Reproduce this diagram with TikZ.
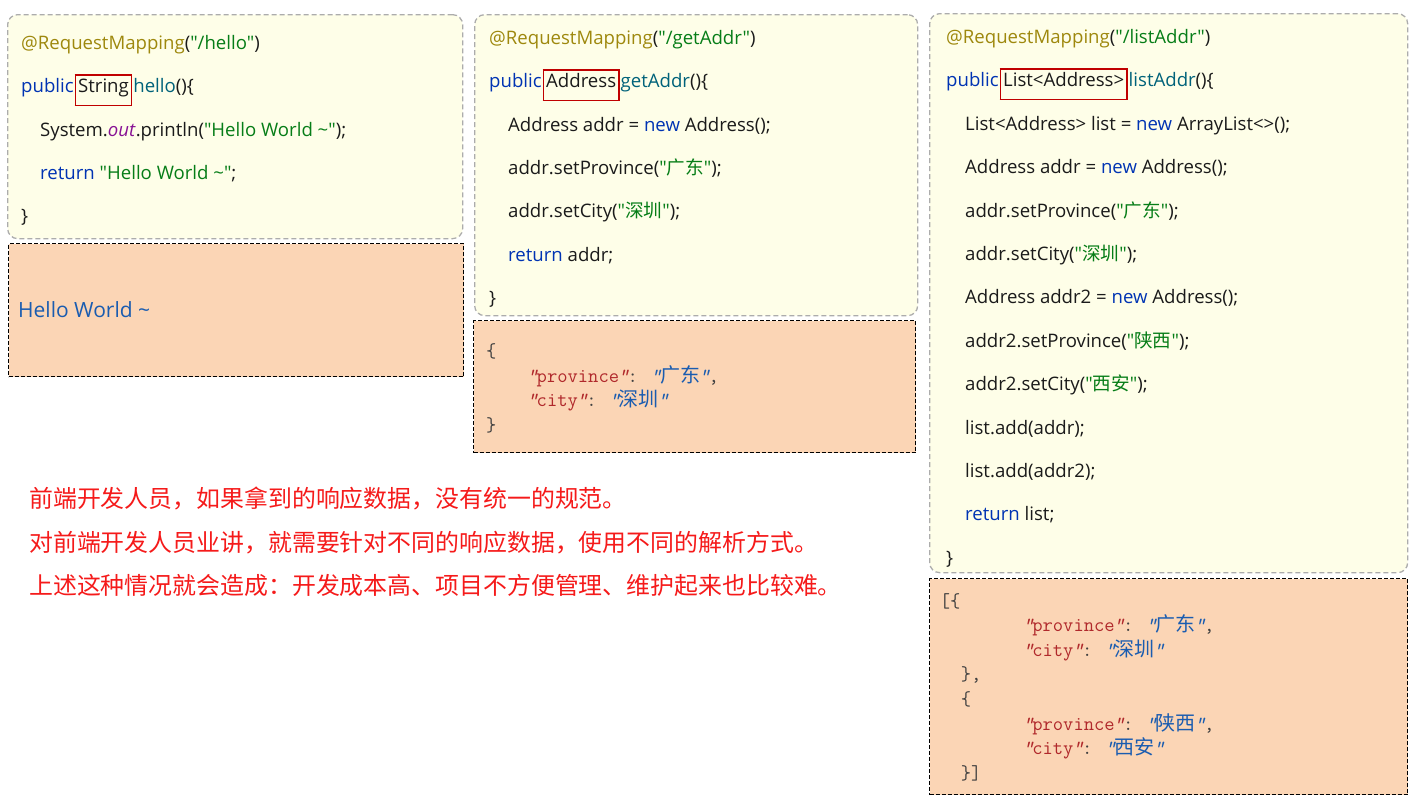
\documentclass[tikz,border=0pt]{standalone}
\usepackage{fontspec}
\setmainfont{Open Sans}[Ligatures=TeXOff]
\newfontfamily\cjk{Noto Sans CJK SC}
\usetikzlibrary{positioning}

\definecolor{codebg}{HTML}{FEFEE8}
\definecolor{resbg}{HTML}{FBD5B5}
\definecolor{codeblack}{HTML}{1A1A1A}
\definecolor{annocol}{HTML}{9E880D}
\definecolor{kwcol}{HTML}{0033B3}
\definecolor{strcol}{HTML}{067D17}
\definecolor{fncol}{HTML}{00627A}
\definecolor{fieldcol}{HTML}{871094}
\definecolor{keycol}{HTML}{B0282B}
\definecolor{valcol}{HTML}{1A5CB0}
\definecolor{jsoncol}{HTML}{404040}
\definecolor{markcol}{HTML}{C00000}
\definecolor{notecol}{HTML}{F51A1A}

\newcommand{\anno}[1]{\textcolor{annocol}{#1}}
\newcommand{\kw}[1]{\textcolor{kwcol}{#1}}
\newcommand{\str}[1]{\textcolor{strcol}{#1}}
\newcommand{\fn}[1]{\textcolor{fncol}{#1}}
\newcommand{\ind}{\hspace*{19pt}}
\newcommand{\marked}[1]{{\fboxsep=2pt\fboxrule=1.5pt\fcolorbox{markcol}{codebg}{\rule[-10pt]{0pt}{25pt}#1}}}
\newcommand{\jq}{\makebox[8.5pt]{\itshape"}}
\newcommand{\jkey}[1]{\textcolor{keycol}{\jq#1\jq}}
\newcommand{\jval}[1]{\textcolor{valcol}{\jq{\cjk#1}\jq}}

\tikzset{
  codebox/.style={draw=gray!65, fill=codebg, line width=1.3pt, dash pattern=on 5pt off 3pt, rounded corners=10pt, anchor=north west, inner sep=0pt},
  resbox/.style={draw=black, fill=resbg, line width=1.1pt, dash pattern=on 4pt off 2pt, anchor=north west, inner sep=0pt},
  codetext/.style={inner sep=0pt, align=left, text=codeblack, font=\fontsize{18.6}{43.4}\selectfont},
  jsontext/.style={inner sep=0pt, align=left, text=jsoncol, font=\ttfamily\fontsize{20}{24.6}\selectfont},
}

\begin{document}
\begin{tikzpicture}[x=1pt, y=-1pt]
\useasboundingbox (0,0) rectangle (1410,803);

% Boxes
\node[codebox, minimum width=455pt, minimum height=224pt] (hellobox) at (7,14) {};
\node[resbox, minimum width=455pt, minimum height=133pt] (hellores) at (8,243) {};
\node[codebox, minimum width=443pt, minimum height=301pt] (addrbox) at (474,14) {};
\node[resbox, minimum width=442pt, minimum height=132pt] (addrres) at (473,320) {};
\node[codebox, minimum width=478pt, minimum height=559pt] (listbox) at (929,13) {};
\node[resbox, minimum width=478pt, minimum height=216pt] (listres) at (929,578) {};

% Code
\node[codetext, below right=20.9pt and 14pt of hellobox.north west] (hellocode) {%
\anno{@RequestMapping}(\str{"/hello"})\\
\kw{public}\hspace{1pt}\marked{String}\hspace{1pt}\fn{hello}()\{\\
\ind System.\textcolor{fieldcol}{\textit{out}}.println(\str{"Hello World \textasciitilde"});\\
\ind\kw{return} \str{"Hello World \textasciitilde"};\\
\}};
\node[codetext, below right=15.9pt and 15pt of addrbox.north west] (addrcode) {%
\anno{@RequestMapping}(\str{"/getAddr"})\\
\kw{public}\hspace{1pt}\marked{Address}\hspace{1pt}\fn{getAddr}()\{\\
\ind Address addr = \kw{new} Address();\\
\ind addr.setProvince(\str{"{\cjk 广东}"});\\
\ind addr.setCity(\str{"{\cjk 深圳}"});\\
\ind\kw{return} addr;\\
\}};
\node[codetext, below right=16.2pt and 17pt of listbox.north west] (listcode) {%
\anno{@RequestMapping}(\str{"/listAddr"})\\
\kw{public}\hspace{1pt}\marked{List<Address>}\hspace{1pt}\fn{listAddr}()\{\\
\ind List<Address> list = \kw{new} ArrayList<>();\\
\ind Address addr = \kw{new} Address();\\
\ind addr.setProvince(\str{"{\cjk 广东}"});\\
\ind addr.setCity(\str{"{\cjk 深圳}"});\\
\ind Address addr2 = \kw{new} Address();\\
\ind addr2.setProvince(\str{"{\cjk 陕西}"});\\
\ind addr2.setCity(\str{"{\cjk 西安}"});\\
\ind list.add(addr);\\
\ind list.add(addr2);\\
\ind\kw{return} list;\\
\}};

% Results
\node[inner sep=0pt, text=valcol, font=\fontsize{21}{25}\selectfont, right=10pt of hellores.west] (helloval) {Hello World \textasciitilde};
\node[jsontext, below right=23.5pt and 13pt of addrres.north west] (addrjson) {%
\{\\
\hspace*{42pt}\jkey{province}: \jval{广东},\\
\hspace*{42pt}\jkey{city}: \jval{深圳}\\
\}};
\node[jsontext, below right=15pt and 10.6pt of listres.north west] (listjson) {%
[\{\\
\hspace*{84pt}\jkey{province}: \jval{广东},\\
\hspace*{84pt}\jkey{city}: \jval{深圳}\\
\hspace*{21pt}\},\\
\hspace*{21pt}\{\\
\hspace*{84pt}\jkey{province}: \jval{陕西},\\
\hspace*{84pt}\jkey{city}: \jval{西安}\\
\hspace*{21pt}\}]};

% Note
\node[inner sep=0pt, align=left, anchor=north west, text=notecol, font=\cjk\fontsize{23.9}{43.5}\selectfont] (note) at (29,487) {%
前端开发人员，如果拿到的响应数据，没有统一的规范。\\
对前端开发人员业讲，就需要针对不同的响应数据，使用不同的解析方式。\\
上述这种情况就会造成：开发成本高、项目不方便管理、维护起来也比较难。};
\end{tikzpicture}
\end{document}
